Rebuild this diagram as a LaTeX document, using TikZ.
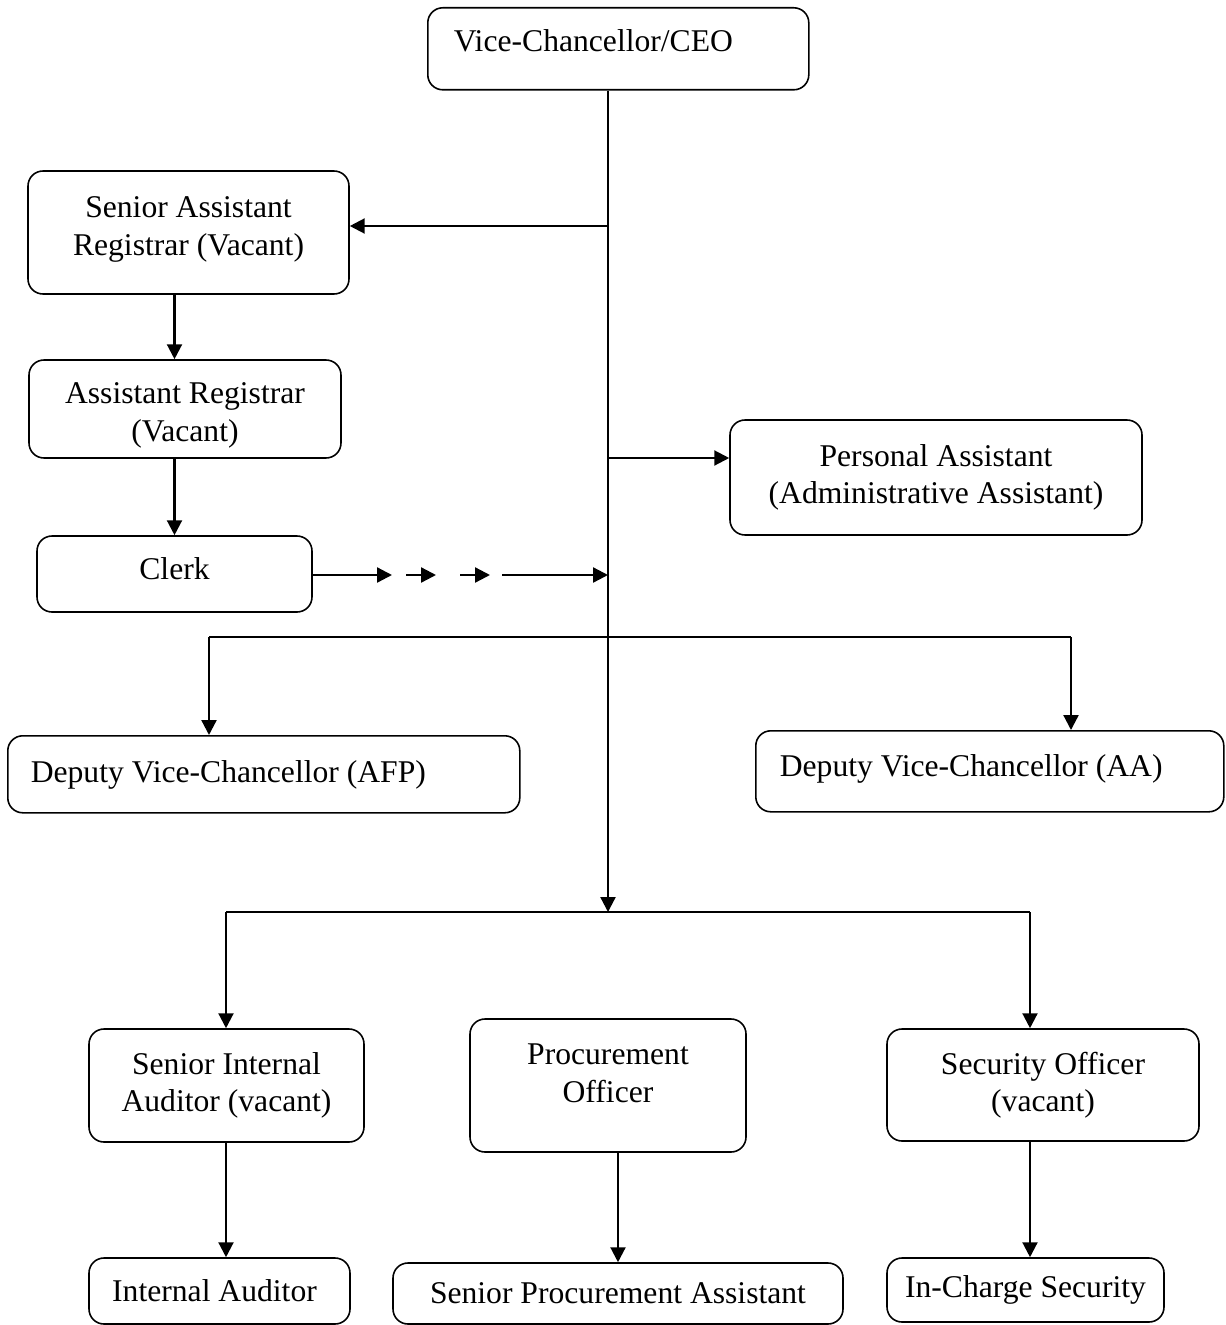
\documentclass[tikz,border=0pt]{standalone}
\usepackage{fontspec}
\setmainfont{Liberation Serif}
\usepackage{tikz}
\usetikzlibrary{arrows.meta}

\begin{document}
\begin{tikzpicture}[>={Triangle[length=8.5pt,width=8.5pt]},line width=1.3pt,
  post node/.style={draw,rounded corners=0.3cm,line width=0.9pt,inner sep=0pt,align=center,font=\fontsize{18}{21.3}\selectfont},
  left node/.style={post node,align=flush left,anchor=north west}]
  \useasboundingbox (0,0) rectangle (24.5,-26.5);

  % top of the chart
  \node[left node,text width=6.58cm,inner xsep=0.52cm,text height=0.88cm,text depth=0.76cm] (vc) at (8.54,-0.14) {Vice-Chancellor/CEO};
  \node[post node,minimum width=6.42cm,text height=1.68cm,text depth=0.78cm] (sar) at (3.77,-4.65) {Senior Assistant\\Registrar (Vacant)};
  \node[post node,minimum width=6.24cm,text height=1.62cm,text depth=0.34cm] (ar) at (3.70,-8.18) {Assistant Registrar\\(Vacant)};
  \node[post node,minimum width=5.50cm,text height=0.86cm,text depth=0.66cm] (clerk) at (3.49,-11.48) {Clerk};
  \node[post node,minimum width=8.24cm,minimum height=2.30cm] (pa) at (18.72,-9.55) {Personal Assistant\\(Administrative Assistant)};

  % deputies
  \node[left node,text width=9.32cm,inner xsep=0.46cm,text height=0.94cm,text depth=0.60cm] (afp) at (0.14,-14.70) {Deputy Vice-Chancellor (AFP)};
  \node[left node,text width=8.40cm,inner xsep=0.48cm,text height=0.92cm,text depth=0.70cm] (aa) at (15.10,-14.60) {Deputy Vice-Chancellor (AA)};

  % bottom row
  \node[post node,minimum width=5.50cm,minimum height=2.26cm] (sia) at (4.53,-21.71) {Senior Internal\\Auditor (vacant)};
  \node[post node,minimum width=5.52cm,text height=1.66cm,text depth=1.00cm] (po) at (12.16,-21.71) {Procurement\\Officer};
  \node[post node,minimum width=6.24cm,minimum height=2.24cm] (so) at (20.86,-21.70) {Security Officer\\(vacant)};
  \node[post node,minimum width=5.22cm,minimum height=1.32cm] (ia) at (4.39,-25.82) {Internal Auditor\hspace{0.2cm}};
  \node[post node,minimum width=9.00cm,minimum height=1.22cm] (spa) at (12.36,-25.87) {Senior Procurement Assistant};
  \node[post node,minimum width=5.54cm,minimum height=1.28cm] (ics) at (20.51,-25.80) {In-Charge Security};

  % joints on the main line
  \coordinate (j1) at (12.16,-4.52);
  \coordinate (j2) at (12.16,-9.16);
  \coordinate (j3) at (12.16,-11.50);
  \coordinate (j4) at (12.16,-12.74);
  \coordinate (j5) at (12.16,-18.24);
  \coordinate (b1) at (4.18,-12.74);
  \coordinate (b2) at (21.42,-12.74);
  \coordinate (d1) at (4.52,-18.24);
  \coordinate (d2) at (20.60,-18.24);
  \coordinate (c1) at (7.84,-11.50);
  \coordinate (c2) at (8.12,-11.50);
  \coordinate (c3) at (8.72,-11.50);
  \coordinate (c4) at (9.20,-11.50);
  \coordinate (c5) at (9.80,-11.50);
  \coordinate (c6) at (10.04,-11.50);

  \draw[->] (vc.south -| j1) -- (j5);
  \draw[->] (j1) -- (sar.east |- j1);
  \draw[->] (sar.south -| clerk) -- (ar.north -| clerk);
  \draw[->] (ar.south -| clerk) -- (clerk.north);
  \draw[->] (j2) -- (pa.west |- j2);
  \draw[->] (clerk.east |- c1) -- (c1);
  \foreach \a/\b in {c2/c3,c4/c5}
    \draw[->] (\a) -- (\b);
  \draw[->] (c6) -- (j3);
  \draw (b1) -- (b2);
  \draw[->] (b1) -- (afp.north -| b1);
  \draw[->] (b2) -- (aa.north -| b2);
  \draw (d1) -- (d2);
  \draw[->] (d1) -- (sia.north -| d1);
  \draw[->] (d2) -- (so.north -| d2);
  \draw[->] (sia.south -| d1) -- (ia.north -| d1);
  \draw[->] (po.south -| spa) -- (spa.north);
  \draw[->] (so.south -| d2) -- (ics.north -| d2);
\end{tikzpicture}
\end{document}
